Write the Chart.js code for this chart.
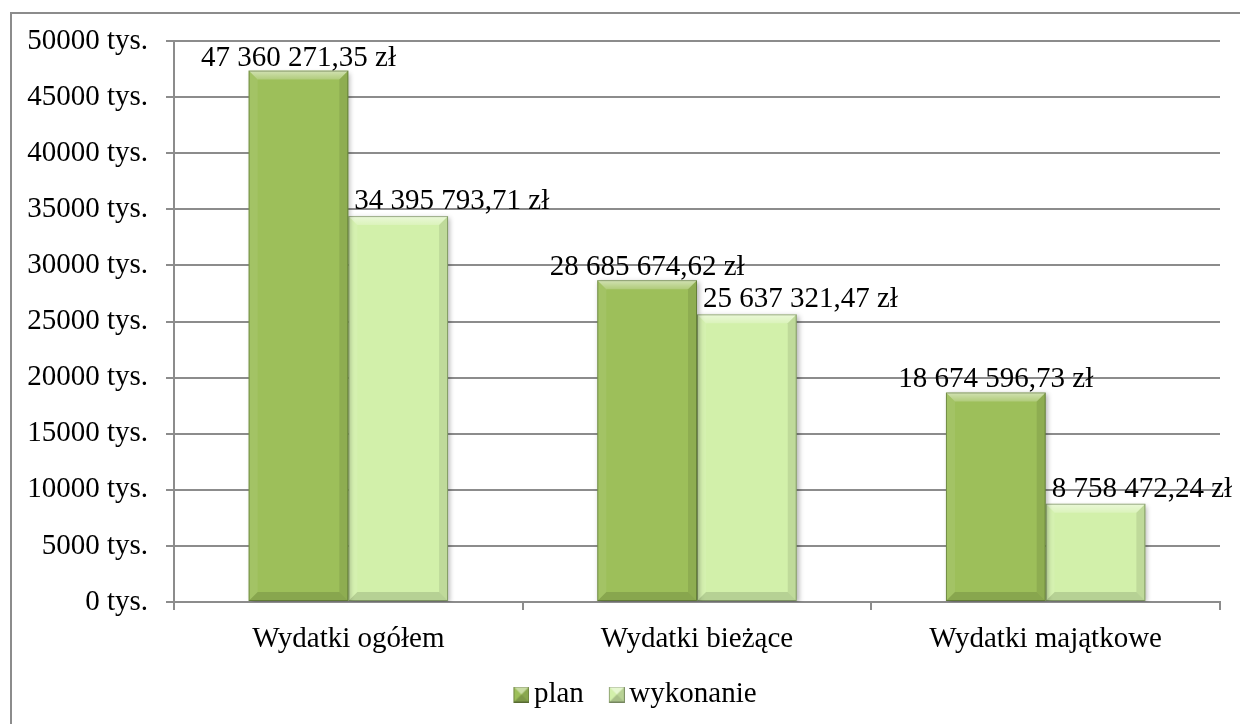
<!DOCTYPE html>
<html>
<head>
<meta charset="utf-8">
<script src="https://cdn.jsdelivr.net/npm/chart.js@4.4.1/dist/chart.umd.min.js"></script>
<style>
  body { margin: 0; background: #fff; }
  #wrap { position: relative; width: 1240px; height: 724px; overflow: hidden; }
  #frame { position: absolute; left: 10px; top: 12px; width: 1300px; height: 800px; border: 2px solid #8c8c8c; }
  canvas { position: absolute; left: 0; top: 0; }
</style>
</head>
<body>
<div id="wrap">
  <div id="frame"></div>
  <canvas id="myChart" width="1240" height="724"></canvas>
</div>
<script>
var categories = ["Wydatki ogółem", "Wydatki bieżące", "Wydatki majątkowe"];
var plan = [47360271.35, 28685674.62, 18674596.73];
var wykonanie = [34395793.71, 25637321.47, 8758472.24];
var seriesNames = ["plan", "wykonanie"];
var seriesColors = ["#9dbf5a", "#d2f0aa"];
var yMax = 50000000;
var yStep = 5000000;

var FONT = "'Liberation Serif', 'Times New Roman', serif";
var FS = 29;

// 47360271.35 -> "47 360 271,35 zł"
function zl(v) {
  var parts = v.toFixed(2).split(".");
  var s = parts[0].replace(/\B(?=(\d{3})+(?!\d))/g, " ");
  return s + "," + parts[1] + " zł";
}

// bevelled square for the legend; square sits at the right end of a wider image
// so the gap to the text is small, like in the original
function legendSwatch(color) {
  var c = document.createElement("canvas");
  c.width = 36; c.height = 16;
  var g = c.getContext("2d");
  g.translate(20, 0);
  g.fillStyle = color;
  g.fillRect(0, 0, 16, 16);
  g.fillStyle = "rgba(255,255,255,0.45)";
  g.beginPath(); g.moveTo(0, 0); g.lineTo(16, 0); g.lineTo(8, 8); g.closePath(); g.fill();
  g.fillStyle = "rgba(0,0,0,0.12)";
  g.beginPath(); g.moveTo(16, 0); g.lineTo(16, 16); g.lineTo(8, 8); g.closePath(); g.fill();
  g.fillStyle = "rgba(0,0,0,0.2)";
  g.beginPath(); g.moveTo(0, 16); g.lineTo(16, 16); g.lineTo(8, 8); g.closePath(); g.fill();
  g.strokeStyle = "rgba(0,0,0,0.3)";
  g.strokeRect(0.5, 0.5, 15, 15);
  return c;
}
var swatches = seriesColors.map(legendSwatch);

// bevel + shadow on each bar, taken from the bar elements
var bevelPlugin = {
  id: "bevel",
  beforeDatasetDraw: function(chart) {
    var ctx = chart.ctx;
    ctx.save();
    ctx.shadowColor = "rgba(0,0,0,0.3)";
    ctx.shadowBlur = 5;
    ctx.shadowOffsetX = 2;
    ctx.shadowOffsetY = 2;
  },
  afterDatasetDraw: function(chart, args) {
    var ctx = chart.ctx;
    ctx.restore();
    args.meta.data.forEach(function(bar) {
      var p = bar.getProps(["x", "y", "base", "width"], true);
      var l = p.x - p.width / 2, r = p.x + p.width / 2, t = p.y, b = p.base;
      var e = 9;
      ctx.save();
      var gt = ctx.createLinearGradient(0, t, 0, t + e);
      gt.addColorStop(0, "rgba(255,255,255,0.55)");
      gt.addColorStop(1, "rgba(255,255,255,0.2)");
      ctx.fillStyle = gt;
      ctx.beginPath(); ctx.moveTo(l, t); ctx.lineTo(r, t); ctx.lineTo(r - e, t + e); ctx.lineTo(l + e, t + e); ctx.closePath(); ctx.fill();
      ctx.fillStyle = "rgba(255,255,255,0.07)";
      ctx.beginPath(); ctx.moveTo(l, t); ctx.lineTo(l + e, t + e); ctx.lineTo(l + e, b - e); ctx.lineTo(l, b); ctx.closePath(); ctx.fill();
      ctx.fillStyle = "rgba(0,0,0,0.09)";
      ctx.beginPath(); ctx.moveTo(r, t); ctx.lineTo(r, b); ctx.lineTo(r - e, b - e); ctx.lineTo(r - e, t + e); ctx.closePath(); ctx.fill();
      ctx.fillStyle = "rgba(0,0,0,0.13)";
      ctx.beginPath(); ctx.moveTo(l, b); ctx.lineTo(r, b); ctx.lineTo(r - e, b - e); ctx.lineTo(l + e, b - e); ctx.closePath(); ctx.fill();
      ctx.strokeStyle = "rgba(40,60,20,0.4)";
      ctx.lineWidth = 1;
      ctx.strokeRect(l + 0.5, t + 0.5, p.width - 1, b - t - 1);
      ctx.restore();
    });
  }
};

// value labels above bars
var valueLabels = {
  id: "valueLabels",
  afterDatasetsDraw: function(chart) {
    var ctx = chart.ctx;
    ctx.save();
    ctx.font = FS + "px " + FONT;
    ctx.fillStyle = "#000";
    ctx.textBaseline = "alphabetic";
    chart.data.datasets.forEach(function(ds, di) {
      var meta = chart.getDatasetMeta(di);
      meta.data.forEach(function(bar, i) {
        var txt = zl(ds.data[i]);
        if (di === 0) {
          ctx.textAlign = "center";
          ctx.fillText(txt, bar.x, bar.y - 5);
        } else {
          ctx.textAlign = "left";
          ctx.fillText(txt, bar.x - bar.width / 2 + 6, bar.y - 7);
        }
      });
    });
    ctx.restore();
  }
};

// legend in the original sits a bit right of centre
var legendShift = {
  id: "legendShift",
  afterLayout: function(chart) {
    if (chart.legend) {
      chart.legend.left += 20;
      chart.legend.right += 20;
    }
  }
};

var ctx = document.getElementById("myChart").getContext("2d");

var mychart = new Chart(ctx, {
  type: "bar",
  data: {
    labels: categories,
    datasets: [{
      label: seriesNames[0],
      data: plan,
      backgroundColor: seriesColors[0],
      borderWidth: 0,
      barPercentage: 1.0,
      categoryPercentage: 0.572
    }, {
      label: seriesNames[1],
      data: wykonanie,
      backgroundColor: seriesColors[1],
      borderWidth: 0,
      barPercentage: 1.0,
      categoryPercentage: 0.572
    }]
  },
  options: {
    responsive: false,
    animation: false,
    devicePixelRatio: 1,
    layout: { padding: { top: 41, right: 20, bottom: 5, left: 0 } },
    plugins: {
      tooltip: { enabled: false },
      legend: {
        position: "bottom",
        labels: {
          font: { family: FONT, size: FS },
          color: "#000",
          padding: 15,
          usePointStyle: true,
          pointStyleWidth: 16,
          boxHeight: 16,
          generateLabels: function(chart) {
            var items = Chart.defaults.plugins.legend.labels.generateLabels(chart);
            items.forEach(function(it, i) { it.pointStyle = swatches[i]; });
            return items;
          }
        }
      }
    },
    scales: {
      x: {
        grid: { display: true, drawOnChartArea: false, drawTicks: true, tickLength: 8, color: "#8c8c8c", lineWidth: 2, offset: true },
        border: { display: true, color: "#8c8c8c", width: 2 },
        ticks: { font: { family: FONT, size: FS }, color: "#000", padding: 12, maxRotation: 0 },
        afterFit: function(s) { s.height = 63; }
      },
      y: {
        min: 0,
        max: yMax,
        grid: { color: "#8c8c8c", lineWidth: 2, tickLength: 8 },
        border: { display: true, color: "#8c8c8c", width: 2 },
        ticks: {
          stepSize: yStep,
          font: { family: FONT, size: FS },
          color: "#000",
          padding: 18,
          callback: function(v) { return (v / 1000) + " tys."; }
        },
        afterFit: function(s) { s.width = 174; }
      }
    }
  },
  plugins: [bevelPlugin, valueLabels, legendShift]
});
</script>
</body>
</html>
